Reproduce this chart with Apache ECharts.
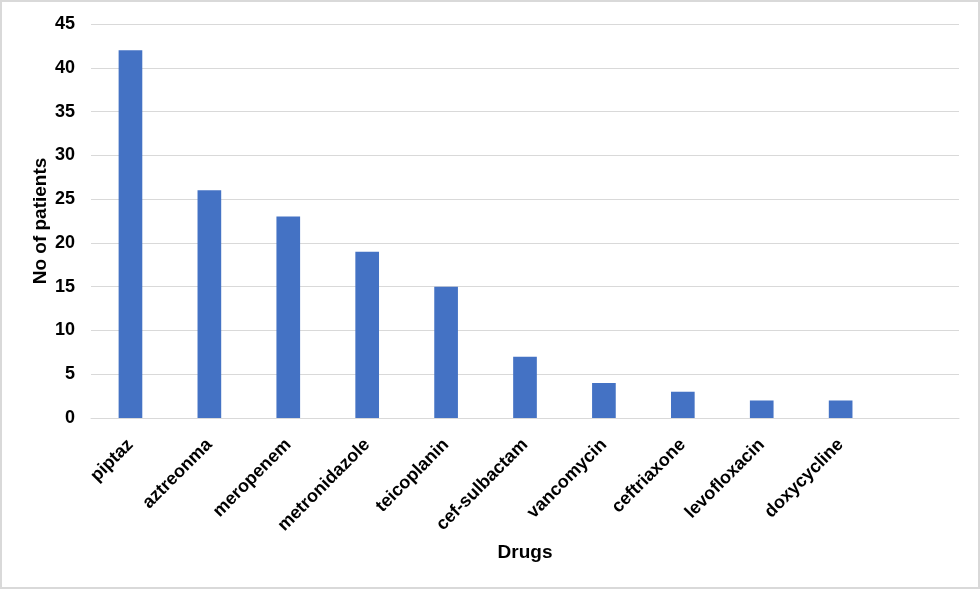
<!DOCTYPE html>
<html>
<head>
<meta charset="utf-8">
<script src="https://cdn.jsdelivr.net/npm/echarts@6/dist/echarts.min.js"></script>
<style>
html,body{margin:0;padding:0;background:#fff;}
#wrap{position:absolute;left:0;top:0;width:976px;height:585px;border:2px solid #d9d9d9;}
#chart{width:976px;height:585px;}
</style>
</head>
<body>
<div id="wrap"><div id="chart"></div></div>
<script>
const categories = ['piptaz','aztreonma','meropenem','metronidazole','teicoplanin','cef-sulbactam','vancomycin','ceftriaxone','levofloxacin','doxycycline',''];
const patients = [42,26,23,19,15,7,4,3,2,2,null];
const yTicks = {min:0, max:45, interval:5};

const chart = echarts.init(document.getElementById('chart'));
const font = '"Liberation Sans", Arial, sans-serif';
chart.setOption({
  animation:false,
  textStyle:{fontFamily:font},
  grid:{left:89, right:19, top:22, bottom:169, containLabel:false},
  xAxis:{
    type:'category',
    data:categories,
    name:'Drugs',
    nameLocation:'middle',
    nameGap:125,
    nameMoveOverlap:false,
    nameTextStyle:{fontFamily:font,fontWeight:'bold',fontSize:19,color:'#000'},
    axisLine:{lineStyle:{color:'#d9d9d9',width:1}},
    axisTick:{show:false},
    axisLabel:{rotate:45,interval:0,fontFamily:font,fontWeight:'bold',fontSize:18,color:'#000',margin:24}
  },
  yAxis:{
    type:'value',
    min:yTicks.min,max:yTicks.max,interval:yTicks.interval,
    name:'No of patients',
    nameLocation:'middle',
    nameGap:41,
    nameMoveOverlap:false,
    nameTextStyle:{fontFamily:font,fontWeight:'bold',fontSize:19,color:'#000'},
    axisLine:{show:false},
    axisTick:{show:false},
    axisLabel:{fontFamily:font,fontWeight:'bold',fontSize:18,color:'#000',margin:16},
    splitLine:{lineStyle:{color:'#d9d9d9',width:1}}
  },
  series:[{
    type:'bar',
    data:patients,
    barWidth:'30%',
    itemStyle:{color:'#4472c4'}
  }]
});
</script>
</body>
</html>
